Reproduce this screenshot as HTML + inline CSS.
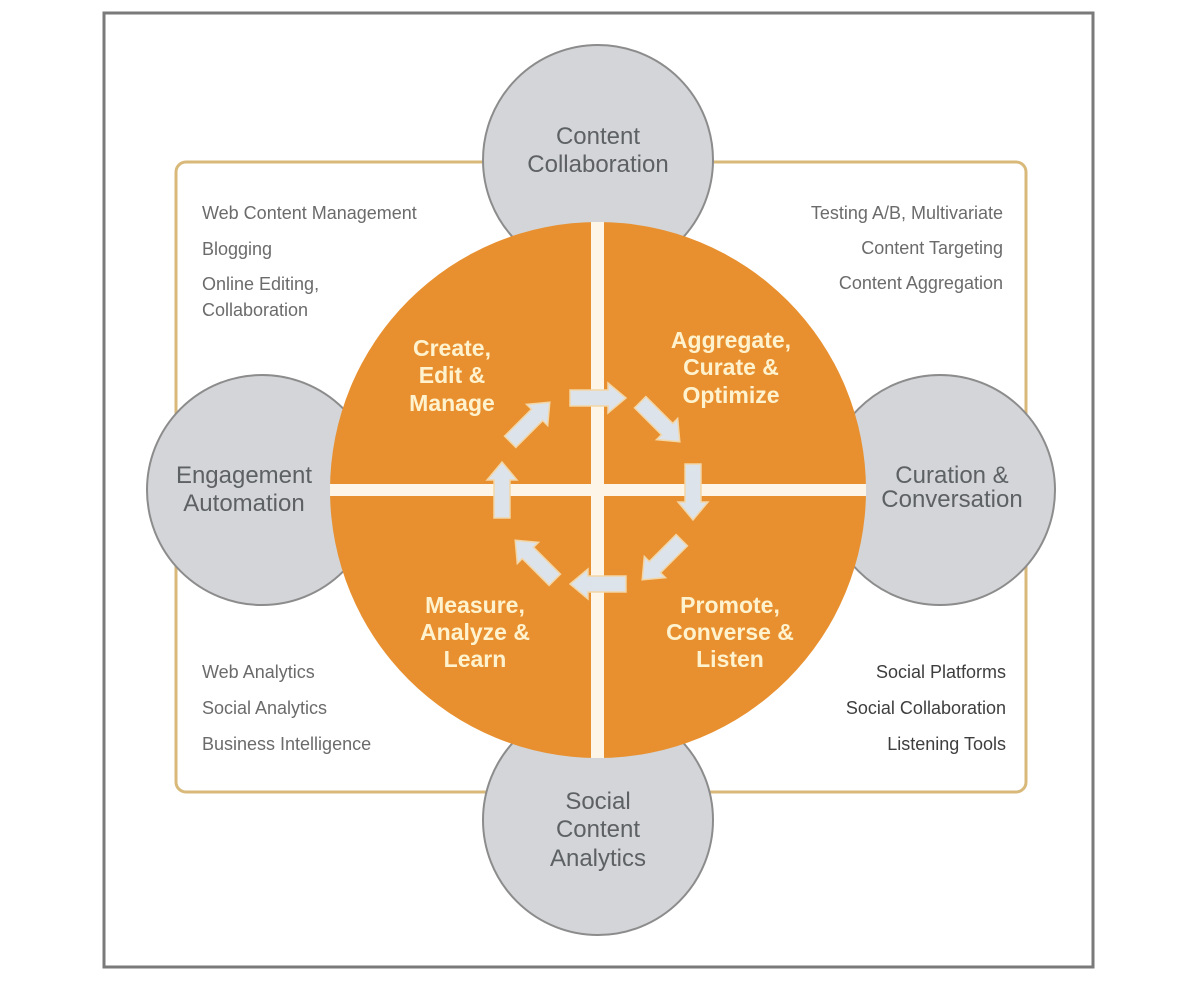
<!DOCTYPE html>
<html><head><meta charset="utf-8"><style>
html,body{margin:0;padding:0;background:#fff;}
svg{display:block;}
text{font-family:"Liberation Sans",sans-serif;}
</style></head><body>
<svg width="1200" height="981" viewBox="0 0 1200 981" xmlns="http://www.w3.org/2000/svg">
<rect x="0" y="0" width="1200" height="981" fill="#fff"/>
<rect x="104" y="13" width="989" height="954" fill="#fff" stroke="#7a7a7a" stroke-width="3"/>
<rect x="176" y="162" width="850" height="630" rx="10" fill="#fff" stroke="#d9b97a" stroke-width="3"/>
<g fill="#d3d5d8" stroke="#8c8c8c" stroke-width="2">
<circle cx="598" cy="160" r="115"/>
<circle cx="262" cy="490" r="115"/>
<circle cx="940" cy="490" r="115"/>
<circle cx="598" cy="820" r="115"/>
</g>
<circle cx="598" cy="490" r="268" fill="#e8902f"/>
<rect x="591" y="222" width="13" height="536" fill="#fdf6e8"/>
<rect x="330" y="484" width="536" height="12" fill="#fdf6e8"/>
<g fill="#dde3ea" stroke="#f3d6a6" stroke-width="1.5">
<g transform="translate(598,398) rotate(0)"><polygon points="-28,-8 10,-8 10,-15 28,0 10,15 10,8 -28,8"/></g>
<g transform="translate(660,422) rotate(45)"><polygon points="-28,-8 10,-8 10,-15 28,0 10,15 10,8 -28,8"/></g>
<g transform="translate(693,492) rotate(90)"><polygon points="-28,-8 10,-8 10,-15 28,0 10,15 10,8 -28,8"/></g>
<g transform="translate(662,560) rotate(135)"><polygon points="-28,-8 10,-8 10,-15 28,0 10,15 10,8 -28,8"/></g>
<g transform="translate(598,584) rotate(180)"><polygon points="-28,-8 10,-8 10,-15 28,0 10,15 10,8 -28,8"/></g>
<g transform="translate(535,560) rotate(225)"><polygon points="-28,-8 10,-8 10,-15 28,0 10,15 10,8 -28,8"/></g>
<g transform="translate(502,490) rotate(270)"><polygon points="-28,-8 10,-8 10,-15 28,0 10,15 10,8 -28,8"/></g>
<g transform="translate(530,422) rotate(315)"><polygon points="-28,-8 10,-8 10,-15 28,0 10,15 10,8 -28,8"/></g>
</g>
<g fill="#5e6163" font-size="24" text-anchor="middle">
<text x="598" y="144">Content</text><text x="598" y="172">Collaboration</text>
<text x="244" y="483">Engagement</text><text x="244" y="511">Automation</text>
<text x="952" y="483">Curation &amp;</text><text x="952" y="507">Conversation</text>
<text x="598" y="809">Social</text><text x="598" y="837">Content</text><text x="598" y="866">Analytics</text>
</g>
<g fill="#fff3cf" font-size="23" font-weight="bold" text-anchor="middle">
<text x="452" y="356">Create,</text><text x="452" y="383">Edit &amp;</text><text x="452" y="411">Manage</text>
<text x="731" y="348">Aggregate,</text><text x="731" y="375">Curate &amp;</text><text x="731" y="403">Optimize</text>
<text x="475" y="613">Measure,</text><text x="475" y="640">Analyze &amp;</text><text x="475" y="667">Learn</text>
<text x="730" y="613">Promote,</text><text x="730" y="640">Converse &amp;</text><text x="730" y="667">Listen</text>
</g>
<g fill="#6b6b6b" font-size="18">
<text x="202" y="219">Web Content Management</text>
<text x="202" y="255">Blogging</text>
<text x="202" y="290">Online Editing,</text>
<text x="202" y="316">Collaboration</text>
<text x="202" y="678">Web Analytics</text>
<text x="202" y="714">Social Analytics</text>
<text x="202" y="750">Business Intelligence</text>
</g>
<g fill="#6b6b6b" font-size="18" text-anchor="end">
<text x="1003" y="219">Testing A/B, Multivariate</text>
<text x="1003" y="254">Content Targeting</text>
<text x="1003" y="289">Content Aggregation</text>
</g>
<g fill="#3e3e3e" font-size="18" text-anchor="end">
<text x="1006" y="678">Social Platforms</text>
<text x="1006" y="714">Social Collaboration</text>
<text x="1006" y="750">Listening Tools</text>
</g>
</svg>
</body></html>
